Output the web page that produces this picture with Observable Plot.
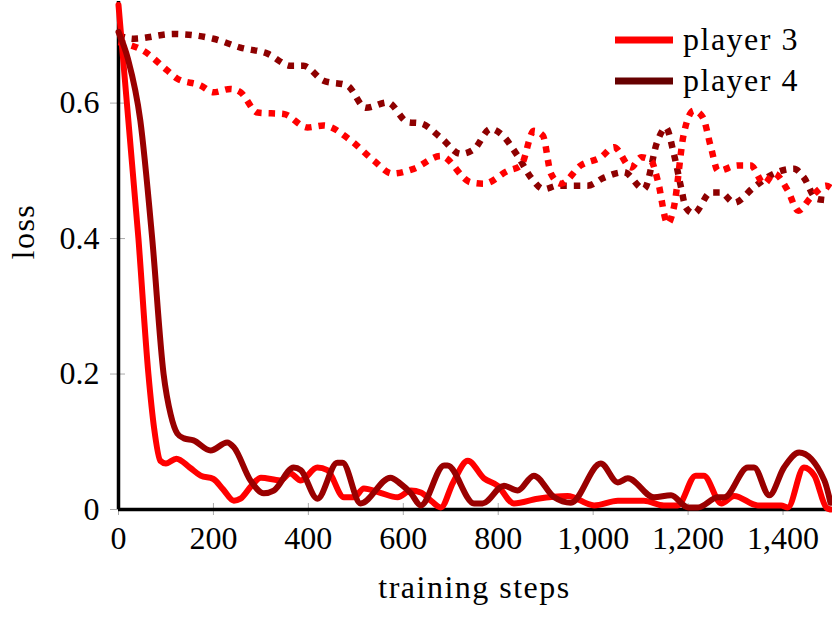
<!DOCTYPE html>
<html>
<head>
<meta charset="utf-8">
<script src="https://cdn.jsdelivr.net/npm/d3@7"></script>
<script src="https://cdn.jsdelivr.net/npm/@observablehq/plot@0.6"></script>
<style>
  html, body { margin: 0; padding: 0; background: white; }
  #chart { width: 832px; height: 618px; }
</style>
</head>
<body>
<div id="chart"></div>
<script>
// ---- data ----
const xTicks = [0, 200, 400, 600, 800, 1000, 1200, 1400];
const yTicks = [0, 0.2, 0.4, 0.6];
const seriesNames = ["player 3", "player 4"];

// player 3, solid
const p3SolidSteps = [0, 42, 63, 75, 88, 100, 122, 150, 173, 200, 220, 243, 257, 280, 300, 341, 362, 384, 419, 440, 475, 496, 517, 550, 588, 616, 637, 660, 679, 705, 736, 770, 799, 833, 883, 946, 1002, 1052, 1107, 1149, 1178, 1216, 1233, 1270, 1297, 1347, 1396, 1410, 1444, 1466, 1491, 1500];
const p3SolidLoss  = [0.745, 0.4, 0.2, 0.12, 0.072, 0.068, 0.075, 0.062, 0.05, 0.045, 0.03, 0.013, 0.016, 0.035, 0.047, 0.043, 0.053, 0.043, 0.062, 0.058, 0.018, 0.018, 0.031, 0.025, 0.018, 0.028, 0.025, 0.012, 0.003, 0.04, 0.072, 0.046, 0.035, 0.009, 0.016, 0.02, 0.006, 0.013, 0.013, 0.006, 0.006, 0.05, 0.05, 0.009, 0.02, 0.006, 0.006, 0.003, 0.062, 0.05, 0.003, 0.0];

// player 4, solid
const p4SolidSteps = [0, 20, 46, 71, 95, 110, 124, 138, 158, 194, 229, 243, 278, 306, 327, 369, 384, 419, 461, 472, 510, 573, 594, 616, 637, 686, 693, 749, 767, 812, 841, 875, 918, 953, 1016, 1052, 1073, 1128, 1164, 1200, 1221, 1263, 1276, 1326, 1339, 1371, 1402, 1434, 1487, 1500];
const p4SolidLoss  = [0.705, 0.665, 0.574, 0.4, 0.2, 0.14, 0.112, 0.105, 0.102, 0.087, 0.099, 0.092, 0.043, 0.024, 0.028, 0.062, 0.058, 0.016, 0.069, 0.069, 0.009, 0.047, 0.038, 0.024, 0.006, 0.065, 0.065, 0.009, 0.009, 0.035, 0.028, 0.05, 0.018, 0.01, 0.068, 0.04, 0.046, 0.018, 0.021, 0.003, 0.003, 0.018, 0.018, 0.062, 0.062, 0.021, 0.062, 0.084, 0.043, 0.01];

// player 3, dotted
const p3DotSteps = [0, 53, 103, 124, 173, 200, 236, 257, 293, 348, 398, 432, 489, 538, 577, 622, 679, 742, 770, 820, 848, 875, 894, 911, 932, 974, 1016, 1044, 1080, 1101, 1122, 1136, 1157, 1170, 1191, 1212, 1231, 1248, 1263, 1305, 1332, 1360, 1381, 1410, 1432, 1459, 1491, 1500];
const p3DotLoss  = [0.69, 0.677, 0.648, 0.636, 0.626, 0.616, 0.621, 0.616, 0.586, 0.584, 0.564, 0.567, 0.545, 0.515, 0.496, 0.503, 0.522, 0.483, 0.481, 0.5, 0.508, 0.559, 0.552, 0.496, 0.481, 0.508, 0.52, 0.535, 0.505, 0.52, 0.515, 0.486, 0.422, 0.446, 0.555, 0.589, 0.579, 0.535, 0.5, 0.508, 0.508, 0.481, 0.496, 0.471, 0.441, 0.461, 0.478, 0.475];

// player 4, dotted
const p4DotSteps = [0, 32, 116, 200, 257, 314, 363, 390, 432, 482, 521, 567, 609, 637, 679, 721, 749, 784, 805, 841, 869, 896, 925, 988, 1023, 1065, 1107, 1136, 1153, 1170, 1185, 1195, 1212, 1248, 1269, 1297, 1339, 1381, 1423, 1444, 1470, 1495, 1500];
const p4DotLoss  = [0.70, 0.695, 0.702, 0.695, 0.682, 0.673, 0.655, 0.655, 0.633, 0.626, 0.593, 0.601, 0.572, 0.57, 0.549, 0.525, 0.532, 0.562, 0.555, 0.522, 0.49, 0.473, 0.478, 0.478, 0.49, 0.498, 0.473, 0.545, 0.564, 0.525, 0.476, 0.446, 0.437, 0.468, 0.468, 0.453, 0.476, 0.496, 0.503, 0.49, 0.459, 0.456, 0.455];

// ---- build tables ----
const toRows = (steps, loss) => steps.map((s, i) => ({step: s, loss: loss[i]}));
const p3Solid = toRows(p3SolidSteps, p3SolidLoss);
const p4Solid = toRows(p4SolidSteps, p4SolidLoss);
const p3Dot = toRows(p3DotSteps, p3DotLoss);
const p4Dot = toRows(p4DotSteps, p4DotLoss);

const RED = "#ff0000";
const DARK = "#990000";
const DARK_DOT = "#8e0000";
const LEGEND_COLORS = ["#ff0000", "#660000"];
const FONT = "Liberation Serif";
const tickGrey = "#aaaaaa";
const fmtX = d3.format(",");

const plot = Plot.plot({
  width: 832,
  height: 618,
  marginLeft: 118,
  marginRight: 2,
  marginTop: 1,
  marginBottom: 109,
  x: {domain: [0, 1500]},
  y: {domain: [0, 0.75]},
  style: {fontFamily: FONT, fontSize: "32px"},
  marks: [
    Plot.axisX({ticks: xTicks, tickSize: 6, stroke: tickGrey, fill: "none", label: null}),
    Plot.axisX({ticks: xTicks, tickSize: -6, stroke: tickGrey, fill: "none", label: null}),
    Plot.text(xTicks, {x: d => d, text: d => fmtX(d), frameAnchor: "bottom", dy: 39, lineAnchor: "bottom", fontSize: 32, fontFamily: FONT, fill: "black"}),
    Plot.axisY({ticks: yTicks, tickSize: 8, tickPadding: 11, tickFormat: d => d === 0 ? "0" : d3.format(".1f")(d), stroke: tickGrey, fill: "black", label: null, fontSize: 32, fontFamily: FONT}),
    Plot.axisY({ticks: yTicks, tickSize: -7, stroke: tickGrey, fill: "none", label: null}),
    Plot.ruleX([0], {stroke: "black", strokeWidth: 3.5}),
    Plot.ruleY([0], {stroke: "black", strokeWidth: 3.5}),
    Plot.line(p4Dot, {x: "step", y: "loss", stroke: DARK_DOT, strokeWidth: 6.5, strokeDasharray: "6.5,7", strokeLinecap: "butt", curve: "monotone-x"}),
    Plot.line(p3Dot, {x: "step", y: "loss", stroke: RED, strokeWidth: 6.5, strokeDasharray: "6.5,7", strokeLinecap: "butt", curve: "monotone-x"}),
    Plot.line(p3Solid, {x: "step", y: "loss", stroke: RED, strokeWidth: 6, curve: "monotone-x"}),
    Plot.line(p4Solid, {x: "step", y: "loss", stroke: DARK, strokeWidth: 6, curve: "monotone-x"}),
    Plot.text(["training steps"], {frameAnchor: "bottom", dy: 88, lineAnchor: "bottom", fontSize: 32, fontFamily: FONT}),
    Plot.text(["loss"], {frameAnchor: "left", dx: -85, dy: 4, rotate: -90, lineAnchor: "bottom", fontSize: 32, fontFamily: FONT})
  ]
});

plot.setAttribute("font-family", FONT);
document.getElementById("chart").appendChild(plot);

// legend (top-right, inside the frame)
const svg = d3.select(plot);
const lg = svg.append("g").attr("font-size", 32).attr("font-family", FONT).attr("text-anchor", "start");
seriesNames.forEach((name, i) => {
  const cy = 40 + i * 41;
  lg.append("line")
    .attr("x1", 615).attr("x2", 673).attr("y1", cy).attr("y2", cy)
    .attr("stroke", LEGEND_COLORS[i]).attr("stroke-width", 7);
  lg.append("text")
    .attr("x", 683).attr("y", cy + 9.5)
    .attr("text-anchor", "start")
    .attr("fill", "black")
    .text(name);
});

// word labels are a little wider in the reference's typeface
svg.selectAll("text").attr("font-family", FONT).each(function() {
  if (/[a-z]/.test(this.textContent)) this.setAttribute("letter-spacing", "1.5");
});
</script>
</body>
</html>
